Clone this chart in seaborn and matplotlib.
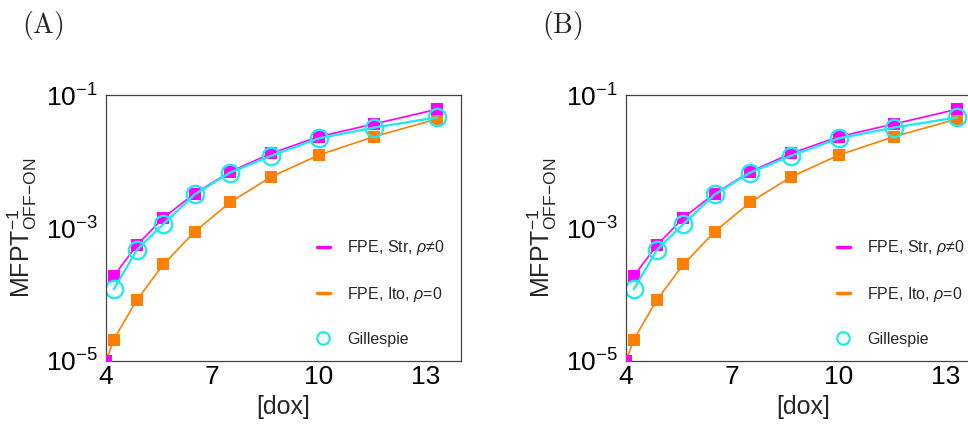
import numpy as np
import pandas as pd
import matplotlib
matplotlib.use("Agg")
import matplotlib.pyplot as plt
from matplotlib.lines import Line2D
from matplotlib.ticker import NullLocator
import seaborn as sns

# Data (both panels show the same curves)
dox = [4.0, 4.22, 4.87, 5.62, 6.50, 7.50, 8.66, 10.0, 11.55, 13.33]
fpe_ito = [1e-5, 2.1e-5, 8.3e-5, 2.84e-4, 8.8e-4, 2.43e-3, 5.9e-3, 1.25e-2, 2.36e-2, 4.35e-2]
dox_str = [4.22, 4.87, 5.62, 6.50, 7.50, 8.66, 10.0, 11.55, 13.33]
fpe_str = [1.9e-4, 5.5e-4, 1.43e-3, 3.3e-3, 7.0e-3, 1.33e-2, 2.36e-2, 3.66e-2, 6.1e-2]
# lone Str point sitting in the lower-left corner (not joined by the line)
dox_str0 = [4.0]
fpe_str0 = [1e-5]
dox_gil = [4.22, 4.87, 5.62, 6.50, 7.50, 8.66, 10.0, 11.55, 13.33]
gillespie = [1.2e-4, 4.67e-4, 1.15e-3, 3.2e-3, 6.8e-3, 1.22e-2, 2.23e-2, 3.23e-2, 4.6e-2]

panel_labels = ["(A)", "(B)"]
legend_labels = [r"FPE, Str, $\rho$≠0", r"FPE, Ito, $\rho$=0", "Gillespie"]
x_ticks = [4, 7, 10, 13]
y_ticks = [1e-5, 1e-3, 1e-1]
y_tick_labels = [r"$\mathregular{10^{-5}}$", r"$\mathregular{10^{-3}}$", r"$\mathregular{10^{-1}}$"]

c_str = "#FF00FF"
c_ito = "#FF8000"
c_gil = "#22E8F0"

sns.set_style("white")
plt.rcParams["font.family"] = ["Liberation Sans", "DejaVu Sans"]
plt.rcParams["mathtext.fontset"] = "custom"
plt.rcParams["mathtext.rm"] = "Liberation Sans"
plt.rcParams["mathtext.it"] = "Liberation Sans:italic"

df_ito = pd.DataFrame({"dox": dox, "ito": fpe_ito})
df_str = pd.DataFrame({"dox": dox_str, "str": fpe_str})
df_str0 = pd.DataFrame({"dox": dox_str0, "str": fpe_str0})
df_gil = pd.DataFrame({"dox": dox_gil, "gil": gillespie})

fig = plt.figure(figsize=(9.68, 4.29), dpi=100)
lefts = [106 / 968, 626 / 968]

for left, plabel in zip(lefts, panel_labels):
    ax = fig.add_axes([left, 68 / 429, 354.7 / 968, 266 / 429])

    sns.lineplot(data=df_ito, x="dox", y="ito", ax=ax, color=c_ito, lw=1.2,
                 marker="s", markersize=8.5, markeredgewidth=0, legend=False)
    sns.scatterplot(data=df_str0, x="dox", y="str", ax=ax, color=c_str, marker="s",
                    s=72, linewidth=0, legend=False, zorder=3)
    sns.lineplot(data=df_str, x="dox", y="str", ax=ax, color=c_str, lw=1.2,
                 marker="s", markersize=8.5, markeredgewidth=0, legend=False)
    sns.lineplot(data=df_gil, x="dox", y="gil", ax=ax, color=c_gil, lw=1.7,
                 marker="o", markersize=12.5, markerfacecolor="none",
                 markeredgecolor=c_gil, markeredgewidth=1.7, legend=False)

    ax.set_yscale("log")
    ax.set_xlim(4, 14)
    ax.set_ylim(1e-5, 1e-1)
    ax.set_xticks(x_ticks)
    ax.set_yticks(y_ticks)
    ax.set_yticklabels(y_tick_labels)
    ax.yaxis.set_minor_locator(NullLocator())
    ax.tick_params(direction="in", length=4, width=0.8, labelsize=19,
                   colors="#333333", labelcolor="black", pad=6)
    ax.tick_params(axis="x", pad=3)
    for sp in ax.spines.values():
        sp.set_color("#444444")
        sp.set_linewidth(0.9)

    ax.set_xlabel("[dox]", fontsize=18, labelpad=4)
    ax.set_ylabel(r"MFPT$^{-1}_{\mathregular{OFF{-}ON}}$", fontsize=18, labelpad=5)

    handles = [
        Line2D([], [], color=c_str, lw=2.5),
        Line2D([], [], color=c_ito, lw=2.5),
        Line2D([], [], color=c_gil, lw=0, marker="o", markersize=9,
               markerfacecolor="none", markeredgewidth=1.6),
    ]
    ax.legend(handles, legend_labels, loc="upper left", bbox_to_anchor=(0.595, 0.462),
              frameon=False, fontsize=11.5, handlelength=0.8, handletextpad=1.1,
              labelspacing=1.75, borderpad=0, borderaxespad=0)

    fig.text(left - 84 / 968, 1 - 26 / 429, r"$\mathrm{" + plabel + "}$", fontsize=20,
             math_fontfamily="cm", ha="left", va="center")

fig.savefig("out.png", dpi=100)
